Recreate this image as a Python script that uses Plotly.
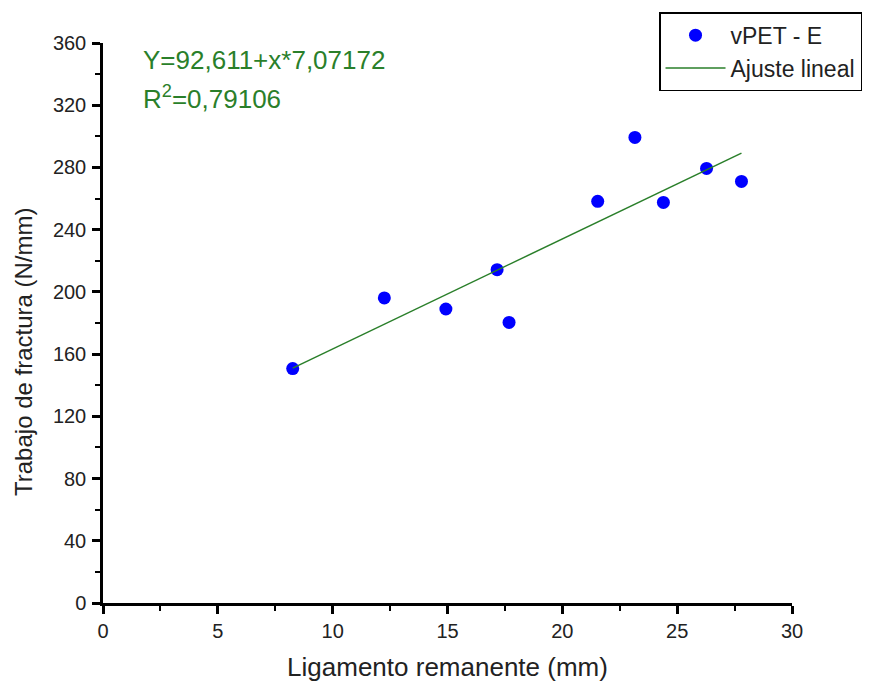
import plotly.graph_objects as go

# Data
ligamento_mm = [8.26, 12.25, 14.93, 17.16, 17.68, 21.54, 23.16, 24.40, 26.28, 27.80]
trabajo_N_mm = [150.7, 196.1, 189.0, 214.3, 180.4, 258.2, 299.3, 257.5, 279.4, 271.0]

# Linear fit endpoints as drawn (Y = 92,611 + x*7,07172)
ajuste_x = [8.26, 27.80]
ajuste_y = [151.0, 289.2]

x_ticks = [0, 5, 10, 15, 20, 25, 30]
y_ticks = [0, 40, 80, 120, 160, 200, 240, 280, 320, 360]

FONT = "Liberation Sans, Arial, sans-serif"
TXT = "#222222"
GREEN = "#2a7f2a"

fig = go.Figure()
fig.add_trace(go.Scatter(
    x=ligamento_mm, y=trabajo_N_mm, mode="markers", name="vPET - E",
    marker=dict(color="#0000ff", size=13, line=dict(width=0)),
))
fig.add_trace(go.Scatter(
    x=ajuste_x, y=ajuste_y, mode="lines", name="Ajuste lineal",
    line=dict(color=GREEN, width=1.5),
))

axis_common = dict(
    showgrid=False, zeroline=False, showline=True, linecolor="black", linewidth=2.5,
    ticks="outside", ticklen=8, tickwidth=2.5, tickcolor="black",
    tickfont=dict(family=FONT, size=20, color=TXT), automargin=False,
)

fig.update_xaxes(
    range=[0, 30], tickvals=x_ticks, ticktext=[str(v) for v in x_ticks],
    minor=dict(ticks="outside", ticklen=5, tickwidth=2, tickcolor="black", dtick=2.5, tick0=0),
    title=dict(text="Ligamento remanente (mm)", standoff=18,
               font=dict(family=FONT, size=26, color=TXT)),
    **axis_common,
)
fig.update_yaxes(
    range=[0, 360], tickvals=y_ticks, ticktext=[str(v) for v in y_ticks],
    minor=dict(ticks="outside", ticklen=5, tickwidth=2, tickcolor="black", dtick=20, tick0=0),
    ticklabelstandoff=2,
    **axis_common,
)

fig.update_layout(
    width=879, height=686,
    margin=dict(l=103, r=87, t=43, b=83, autoexpand=False),
    plot_bgcolor="white", paper_bgcolor="white",
    font=dict(family=FONT, color=TXT),
    showlegend=True,
    legend=dict(
        x=0.807, y=1.055, xanchor="left", yanchor="top",
        bgcolor="white", bordercolor="black", borderwidth=1.5,
        font=dict(family=FONT, size=23, color=TXT),
        tracegroupgap=0, itemwidth=60,
    ),
    annotations=[
        dict(text="Trabajo de fractura (N/mm)", xref="paper", yref="paper",
             x=(23 - 103) / 689, y=(603 - 352) / 560, xanchor="center", yanchor="middle",
             textangle=-90, showarrow=False, font=dict(family=FONT, size=24, color=TXT)),
        dict(text="Y=92,611+x*7,07172", xref="paper", yref="paper",
             x=(141 - 103) / 689, y=(603 - 60) / 560, xanchor="left", yanchor="middle",
             showarrow=False, font=dict(family=FONT, size=26, color=GREEN)),
        dict(text="R<sup>2</sup>=0,79106", xref="paper", yref="paper",
             x=(141 - 103) / 689, y=(603 - 97) / 560, xanchor="left", yanchor="middle",
             showarrow=False, font=dict(family=FONT, size=26, color=GREEN)),
    ],
)

fig.write_html("out.html")
